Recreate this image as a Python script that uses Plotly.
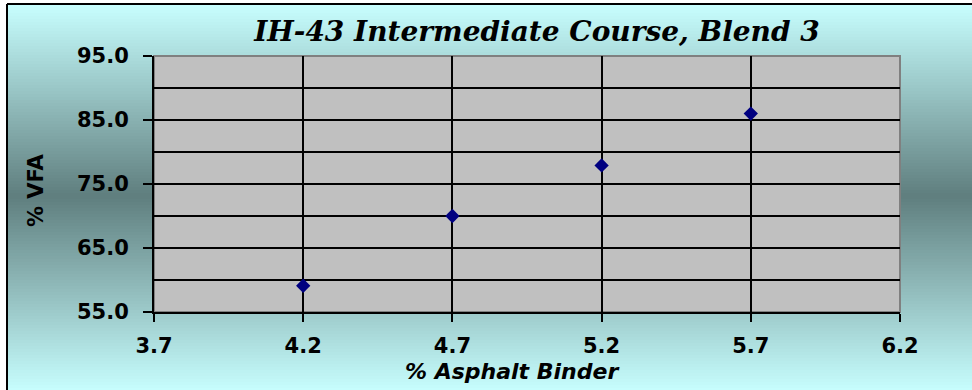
import plotly.graph_objects as go

# Mix design data: binder content vs. voids filled with asphalt
binder_pct = [4.2, 4.7, 5.2, 5.7]
vfa_pct = [59.1, 70.0, 77.9, 86.0]

x_ticks = [3.7, 4.2, 4.7, 5.2, 5.7, 6.2]
y_ticks = [55.0, 65.0, 75.0, 85.0, 95.0]

title_text = "<b><i>IH-43 Intermediate Course, Blend 3</i></b>"
x_title = "<b><i>% Asphalt Binder</i></b>"
y_title = "<b>% VFA</b>"

W, H = 972, 390
ML, MR, MT, MB = 154, 72, 56, 78
PW, PH = W - ML - MR, H - MT - MB


def px(xp):
    return (xp - ML) / PW


def py(yp):
    return 1 - (yp - MT) / PH


def mix(c1, c2, t):
    return "rgb(%d,%d,%d)" % tuple(round(a + (b - a) * t) for a, b in zip(c1, c2))


light = (200, 255, 255)
dark = (95, 126, 126)
top_y, mid_y, bot_y = 4, 196, 392
frame_x = 7

shapes = []
step = 3
y = top_y
while y < bot_y:
    yc = y + step / 2
    if yc <= mid_y:
        t = (yc - top_y) / (mid_y - top_y)
    else:
        t = 1 - (yc - mid_y) / (bot_y - mid_y)
    col = mix(light, dark, t)
    shapes.append(dict(type="rect", xref="paper", yref="paper",
                       x0=px(frame_x), x1=px(W + 2), y0=py(y + step + 0.5), y1=py(y),
                       fillcolor=col, line=dict(width=0), layer="below"))
    y += step

# plot area fill and grey frame
shapes.append(dict(type="rect", xref="paper", yref="paper", x0=0, x1=1, y0=0, y1=1,
                   fillcolor="#C0C0C0", line=dict(color="#808080", width=2), layer="below"))
# outer chart frame
shapes.append(dict(type="line", xref="paper", yref="paper",
                   x0=px(frame_x), x1=px(frame_x), y0=py(top_y), y1=py(H + 2),
                   line=dict(color="black", width=2)))
shapes.append(dict(type="line", xref="paper", yref="paper",
                   x0=px(frame_x), x1=px(W + 2), y0=py(top_y), y1=py(top_y),
                   line=dict(color="black", width=2)))

fig = go.Figure()
fig.add_trace(go.Scatter(
    x=binder_pct, y=vfa_pct, mode="markers",
    marker=dict(symbol="diamond", size=11, color="#000080",
                line=dict(width=0)),
    showlegend=False, cliponaxis=False))

tick_font = dict(family="DejaVu Sans", size=21, color="black", weight="bold")

fig.update_layout(
    width=W, height=H,
    margin=dict(l=ML, r=MR, t=MT, b=MB),
    paper_bgcolor="white",
    plot_bgcolor="#C0C0C0",
    shapes=shapes,
    title=dict(text=title_text, x=537 / W, xref="container", xanchor="center",
               y=1 - 31 / H, yref="container", yanchor="middle",
               font=dict(family="DejaVu Serif", size=28, color="black")),
    xaxis=dict(range=[x_ticks[0], x_ticks[-1]], tickvals=x_ticks,
               ticktext=["%.1f" % v for v in x_ticks],
               showgrid=True, gridcolor="black", gridwidth=2,
               showline=True, linecolor="black", linewidth=2,
               ticks="outside", ticklen=8, tickwidth=2, tickcolor="black",
               ticklabelstandoff=6, tickfont=tick_font, zeroline=False),
    yaxis=dict(range=[y_ticks[0], y_ticks[-1]], tickvals=y_ticks,
               ticktext=["%.1f" % v for v in y_ticks],
               showgrid=True, gridcolor="black", gridwidth=2,
               minor=dict(dtick=5, tick0=55, showgrid=True, gridcolor="black",
                          gridwidth=2, ticks=""),
               showline=True, linecolor="black", linewidth=2,
               ticks="outside", ticklen=9, tickwidth=2, tickcolor="black",
               ticklabelstandoff=10, tickfont=tick_font, zeroline=False),
    annotations=[
        dict(text=x_title, xref="paper", yref="paper", x=px(512), y=py(371),
             xanchor="center", yanchor="middle", showarrow=False,
             font=dict(family="DejaVu Sans", size=22, color="black")),
        dict(text=y_title, xref="paper", yref="paper", x=px(36), y=py(190),
             xanchor="center", yanchor="middle", showarrow=False, textangle=-90,
             font=dict(family="DejaVu Sans", size=21, color="black")),
    ],
)

fig.write_html("out.html")
